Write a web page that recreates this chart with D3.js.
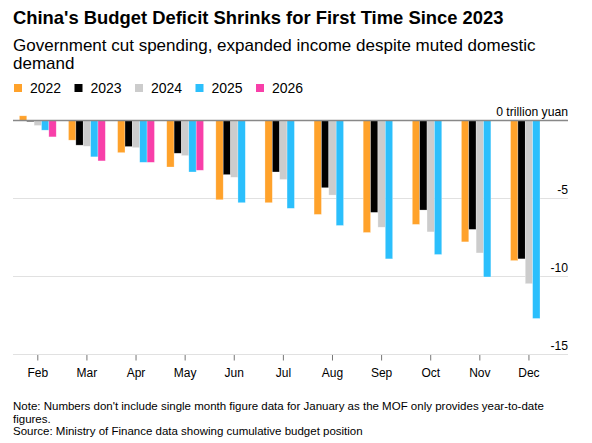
<!DOCTYPE html>
<html>
<head>
<meta charset="utf-8">
<script src="https://cdn.jsdelivr.net/npm/d3@7"></script>
<style>
  body { margin: 0; background: #fff; }
  text { font-family: "Liberation Sans", Arial, sans-serif; fill: #000; }
</style>
</head>
<body>
<div id="chart"></div>
<script>
// cumulative budget position, trillion yuan
var months = ['Feb', 'Mar', 'Apr', 'May', 'Jun', 'Jul', 'Aug', 'Sep', 'Oct', 'Nov', 'Dec'];
var years = ['2022', '2023', '2024', '2025', '2026'];
var v2022 = [0.30, -1.26, -2.06, -2.98, -5.08, -5.27, -6.02, -7.18, -6.66, -7.78, -8.98];
var v2023 = [-0.07, -1.58, -1.67, -2.10, -3.47, -3.30, -4.31, -5.89, -5.74, -6.98, -8.87];
var v2024 = [-0.32, -1.65, -1.74, -2.25, -3.64, -3.78, -4.78, -6.84, -7.14, -8.49, -10.46];
var v2025 = [-0.62, -2.33, -2.68, -3.30, -5.27, -5.63, -6.73, -8.87, -8.59, -10.03, -12.69];
var v2026 = [-1.05, -2.59, -2.68, -3.19];
var yTicks = [0, -5, -10, -15];

var seriesByYear = { '2022': v2022, '2023': v2023, '2024': v2024, '2025': v2025, '2026': v2026 };
var colors = d3.scaleOrdinal().domain(years)
    .range(['#ffa22b', '#000000', '#cccccc', '#2bbffc', '#f83fa9']);

var width = 592, height = 443;
var left = 13, right = 568;

var svg = d3.select('#chart').append('svg')
    .attr('width', width)
    .attr('height', height);

// headings
svg.append('text')
   .attr('x', 13).attr('y', 24)
   .style('font-size', '18.4px').style('font-weight', 'bold')
   .text("China's Budget Deficit Shrinks for First Time Since 2023");
svg.append('text')
   .attr('x', 13).attr('y', 50.5)
   .style('font-size', '17px')
   .text('Government cut spending, expanded income despite muted domestic');
svg.append('text')
   .attr('x', 13).attr('y', 68.5)
   .style('font-size', '17px')
   .text('demand');

// legend
var legend = svg.append('g').attr('transform', 'translate(14, 84)');
years.forEach(function(y, i) {
    var g = legend.append('g').attr('transform', 'translate(' + (i * 60.5) + ',0)');
    g.append('rect').attr('width', 8).attr('height', 8).attr('fill', colors(y));
    g.append('text').attr('x', 16).attr('y', 9)
     .style('font-size', '14px').text(y);
});

// scales
var x0 = d3.scaleBand().domain(months).range([13.25, 553.5])
    .paddingInner(0.25).paddingOuter(0.125);
var x1 = d3.scaleBand().domain(years).range([0, x0.bandwidth()]);
var yScale = d3.scaleLinear().domain([-15, 0]).range([354.5, 120.5]);

// gridlines
svg.append('g').selectAll('line')
   .data(yTicks.filter(function(d) { return d !== 0; }))
   .join('line')
   .attr('x1', left).attr('x2', right)
   .attr('y1', function(d) { return yScale(d); })
   .attr('y2', function(d) { return yScale(d); })
   .attr('stroke', '#e1e1e1').attr('stroke-width', 1);

// bars
var flat = [];
years.forEach(function(y) {
    seriesByYear[y].forEach(function(v, i) {
        flat.push({ month: months[i], year: y, value: v });
    });
});
svg.append('g').selectAll('rect')
   .data(flat)
   .join('rect')
   .attr('x', function(d) { return x0(d.month) + x1(d.year); })
   .attr('width', x1.bandwidth())
   .attr('y', function(d) { return yScale(Math.max(0, d.value)); })
   .attr('height', function(d) { return Math.abs(yScale(d.value) - yScale(0)); })
   .attr('fill', function(d) { return colors(d.year); })
   .attr('stroke', 'rgba(255,255,255,0.45)')
   .attr('stroke-width', 0.6);

// zero line
svg.append('line')
   .attr('x1', left).attr('x2', right)
   .attr('y1', yScale(0)).attr('y2', yScale(0))
   .attr('stroke', '#888').attr('stroke-width', 1.3);

// y labels
svg.append('g').selectAll('text')
   .data(yTicks)
   .join('text')
   .attr('x', right)
   .attr('y', function(d) { return yScale(d) - 5; })
   .attr('text-anchor', 'end')
   .style('font-size', '12.2px')
   .text(function(d) { return d === 0 ? '0 trillion yuan' : d3.format('d')(d).replace('\u2212', '-'); });

// x axis
var xAxis = d3.axisBottom(x0).tickSize(5.5).tickPadding(8);
var xg = svg.append('g')
   .attr('transform', 'translate(0,' + (yScale(-15) + 0.5) + ')')
   .call(xAxis);
xg.select('.domain').remove();
xg.selectAll('line').attr('stroke', '#777');
xg.selectAll('text')
  .style('font-size', '12px')
  .style('font-family', '"Liberation Sans", Arial, sans-serif')
  .attr('fill', '#000');

// footnotes
var notes = [
    "Note: Numbers don't include single month figure data for January as the MOF only provides year-to-date",
    'figures.',
    'Source: Ministry of Finance data showing cumulative budget position'
];
svg.append('g').selectAll('text')
   .data(notes)
   .join('text')
   .attr('x', 13)
   .attr('y', function(d, i) { return 410 + i * 12.5; })
   .style('font-size', '11.5px')
   .text(function(d) { return d; });
</script>
</body>
</html>
